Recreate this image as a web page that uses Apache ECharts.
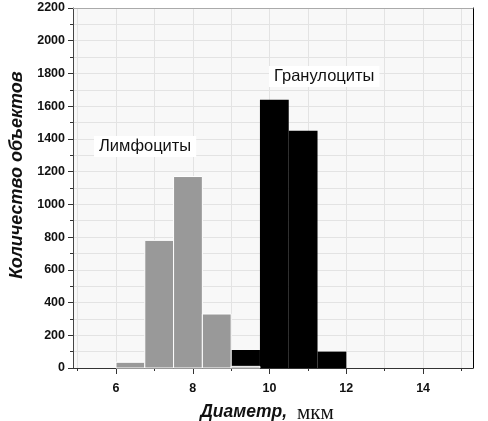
<!DOCTYPE html>
<html>
<head>
<meta charset="utf-8">
<script src="https://cdn.jsdelivr.net/npm/echarts@6/dist/echarts.min.js"></script>
<style>
html,body{margin:0;padding:0;background:#fff;}
#chart{width:488px;height:421px;}
</style>
</head>
<body>
<div id="chart"></div>
<script>
// ---- data ----
const binWidth = 0.75;
const lymphStart = [6.0, 6.75, 7.5, 8.25, 9.0];
const lymphCounts = [35, 780, 1170, 330, 10];
const granStart = [9.0, 9.75, 10.5, 11.25];
const granCounts = [110, 1640, 1450, 100];
const xMajorTicks = [6, 8, 10, 12, 14];
const xAllTicks = [5, 6, 7, 8, 9, 10, 11, 12, 13, 14, 15];
const yMin = 0, yMax = 2200, yStep = 200;
const xMin = 4.88, xMax = 15.3;

const chart = echarts.init(document.getElementById('chart'), null, {renderer: 'canvas'});

function histItem(fill, stroke) {
  return function (params, api) {
    const s = api.value(0), c = api.value(1);
    const p0 = api.coord([s, c]);
    const p1 = api.coord([s + binWidth, 0]);
    return {
      type: 'rect',
      shape: {x: p0[0], y: p0[1], width: p1[0] - p0[0], height: p1[1] - p0[1]},
      style: {fill: fill, stroke: stroke, lineWidth: stroke ? 1 : 0}
    };
  };
}

const tickFont = {fontFamily: 'Liberation Sans, Arial, sans-serif', fontWeight: 'bold', fontSize: 12.5, color: '#111'};

const option = {
  backgroundColor: '#fff',
  animation: false,
  grid: {left: 73, right: 15, top: 8, bottom: 53, show: true, backgroundColor: '#f8f8f8', borderWidth: 0, containLabel: false, outerBoundsMode: 'none'},
  xAxis: [
    {
      type: 'value', min: xMin, max: xMax, position: 'bottom',
      axisLine: {show: true, lineStyle: {color: '#333', width: 1}},
      axisTick: {show: true, customValues: xAllTicks, length: 3, lineStyle: {color: '#333'}},
      axisLabel: {show: false},
      splitLine: {show: true, lineStyle: {color: '#e3e3e3', width: 1}}
    },
    {
      type: 'value', min: xMin, max: xMax, position: 'bottom',
      axisLine: {show: false},
      axisTick: {show: true, customValues: xMajorTicks, length: 6, lineStyle: {color: '#333'}},
      axisLabel: Object.assign({customValues: xMajorTicks, margin: 14}, tickFont),
      splitLine: {show: false},
      name: '{a|Диаметр,}   {b|мкм}',
      nameLocation: 'middle',
      nameGap: 33,
      nameTextStyle: {
        padding: [0, 12, 0, 0],
        rich: {
          a: {fontFamily: 'Liberation Sans, Arial, sans-serif', fontWeight: 'bold', fontStyle: 'italic', fontSize: 17.5, color: '#111'},
          b: {fontFamily: 'Liberation Serif, Times New Roman, serif', fontSize: 21, color: '#111', padding: [2, 0, 0, 0]}
        }
      }
    },
    {
      type: 'value', min: xMin, max: xMax, position: 'top',
      axisLine: {show: true, lineStyle: {color: '#aaa', width: 1}},
      axisTick: {show: false}, axisLabel: {show: false}, splitLine: {show: false}
    }
  ],
  yAxis: [
    {
      type: 'value', min: yMin, max: yMax, interval: yStep,
      axisLine: {show: true, lineStyle: {color: '#444', width: 1}},
      axisTick: {show: true, length: 5, lineStyle: {color: '#333'}},
      minorTick: {show: true, splitNumber: 2, length: 3, lineStyle: {color: '#333'}},
      axisLabel: Object.assign({margin: 8, formatter: v => String(v)}, tickFont),
      splitLine: {show: true, lineStyle: {color: '#e3e3e3', width: 1}},
      minorSplitLine: {show: true, lineStyle: {color: '#e3e3e3', width: 1}},
      name: 'Количество объектов',
      nameLocation: 'middle',
      nameGap: 44,
      nameTextStyle: {fontFamily: 'Liberation Sans, Arial, sans-serif', fontWeight: 'bold', fontStyle: 'italic', fontSize: 18, color: '#111', padding: [0, 0, 0, 26]}
    },
    {
      type: 'value', min: yMin, max: yMax, position: 'right',
      axisLine: {show: true, lineStyle: {color: '#000', width: 1}},
      axisTick: {show: false}, axisLabel: {show: false}, splitLine: {show: false}
    }
  ],
  series: [
    {
      name: 'Гранулоциты', type: 'custom', xAxisIndex: 0, yAxisIndex: 0,
      renderItem: histItem('#000000', null),
      data: granStart.map((s, i) => [s, granCounts[i]]),
      z: 2
    },
    {
      name: 'Лимфоциты', type: 'custom', xAxisIndex: 0, yAxisIndex: 0,
      renderItem: histItem('#999999', '#ffffff'),
      data: lymphStart.map((s, i) => [s, lymphCounts[i]]),
      z: 3
    }
  ],
  graphic: [
    {
      type: 'text', left: 94, top: 136, z: 10,
      style: {text: 'Лимфоциты', font: '16.5px "Liberation Sans", Arial, sans-serif', fill: '#111', backgroundColor: '#fff', padding: [2, 5, 2, 5]}
    },
    {
      type: 'text', left: 269, top: 66, z: 10,
      style: {text: 'Гранулоциты', font: '16.5px "Liberation Sans", Arial, sans-serif', fill: '#111', backgroundColor: '#fff', padding: [2, 5, 2, 5]}
    }
  ]
};
chart.setOption(option);
</script>
</body>
</html>
